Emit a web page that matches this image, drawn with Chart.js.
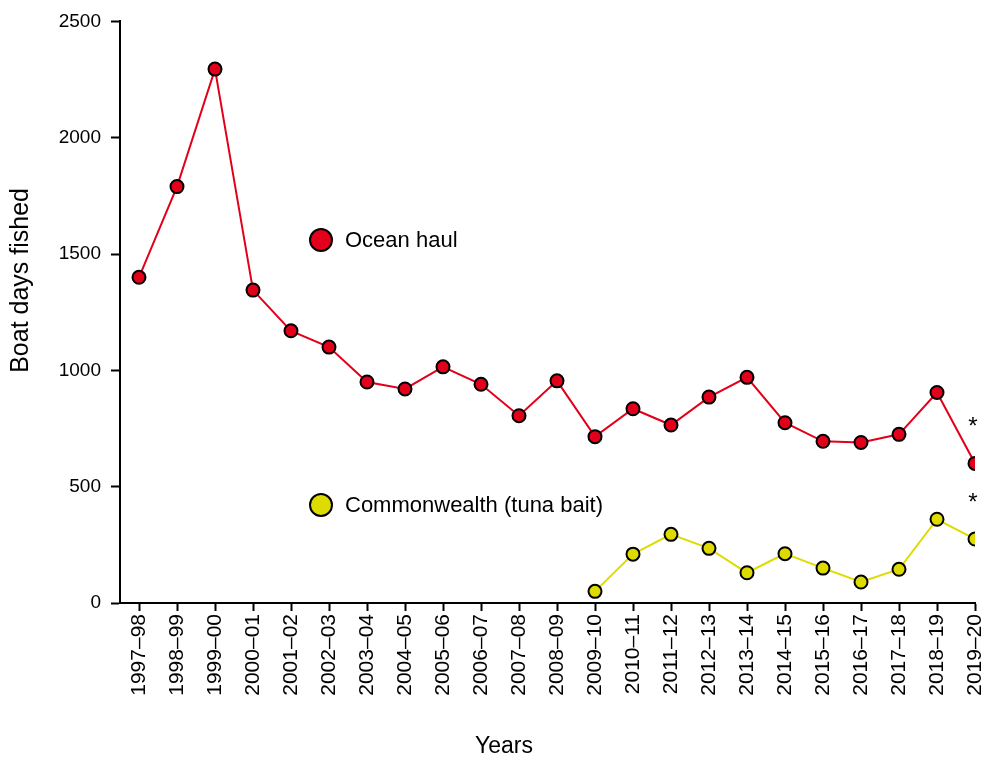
<!DOCTYPE html>
<html>
<head>
<meta charset="utf-8">
<script src="https://cdn.jsdelivr.net/npm/chart.js@4/dist/chart.umd.min.js"></script>
<style>
  html, body { margin: 0; padding: 0; background: #ffffff; }
  #wrap { width: 985px; height: 758px; }
</style>
</head>
<body>
<div id="wrap"><canvas id="chart" width="985" height="758"></canvas></div>
<script>
// Fishing seasons shown along the horizontal axis
const seasons = [
  '1997–98', '1998–99', '1999–00', '2000–01', '2001–02', '2002–03',
  '2003–04', '2004–05', '2005–06', '2006–07', '2007–08', '2008–09',
  '2009–10', '2010–11', '2011–12', '2012–13', '2013–14', '2014–15',
  '2015–16', '2016–17', '2017–18', '2018–19', '2019–20'
];

// Boat days fished, ocean haul sector
const oceanHaul = [
  1400, 1790, 2295, 1345, 1170, 1100, 950, 920, 1015, 940, 805, 955,
  715, 835, 765, 885, 970, 775, 695, 690, 725, 905, 600
];

// Boat days fished, Commonwealth (tuna bait) sector; no effort before 2009–10
const commonwealth = [
  null, null, null, null, null, null, null, null, null, null, null, null,
  50, 210, 295, 235, 130, 212, 150, 90, 145, 360, 275
];

// Value axis ticks
const yTicks = [0, 500, 1000, 1500, 2000, 2500];

// Seasons whose figures are flagged with an asterisk
const flaggedSeasons = ['2019–20'];

const FONT = '"Liberation Sans", Arial, Helvetica, sans-serif';
const RED = '#e2001a';
const YELLOW = '#dedb00';

const toPoints = arr => arr.map((v, i) => ({ x: i, y: v }));

// Axis titles, in-plot legend and asterisk flags
const annotations = {
  id: 'annotations',
  afterDraw(chart) {
    const { ctx, chartArea: a } = chart;
    ctx.save();
    ctx.fillStyle = '#000';

    // axis titles
    ctx.textAlign = 'center';
    ctx.textBaseline = 'middle';
    ctx.font = '23px ' + FONT;
    ctx.fillText('Years', a.left + 384, 747);
    ctx.font = '25px ' + FONT;
    ctx.save();
    ctx.translate(21, a.top + 259);
    ctx.rotate(-Math.PI / 2);
    ctx.fillText('Boat days fished', 0, 0);
    ctx.restore();

    // legend entries placed inside the plot
    const entries = [
      { label: 'Ocean haul', color: RED, y: 240 },
      { label: 'Commonwealth (tuna bait)', color: YELLOW, y: 505 }
    ];
    ctx.font = '22px ' + FONT;
    ctx.textAlign = 'left';
    entries.forEach(e => {
      ctx.beginPath();
      ctx.arc(a.left + 201, e.y, 11, 0, Math.PI * 2);
      ctx.fillStyle = e.color;
      ctx.fill();
      ctx.lineWidth = 2;
      ctx.strokeStyle = '#000';
      ctx.stroke();
      ctx.fillStyle = '#000';
      ctx.fillText(e.label, a.left + 225, e.y + 1);
    });

    // asterisks above flagged seasons
    ctx.font = '24px ' + FONT;
    ctx.textAlign = 'center';
    chart.data.datasets.forEach((ds, di) => {
      const meta = chart.getDatasetMeta(di);
      flaggedSeasons.forEach(s => {
        const idx = seasons.indexOf(s);
        const el = meta.data[idx];
        if (el && ds.data[idx].y != null) {
          ctx.fillText('*', el.x - 2, el.y - 36);
        }
      });
    });
    ctx.restore();
  }
};

new Chart(document.getElementById('chart'), {
  type: 'line',
  data: {
    datasets: [
      {
        label: 'Ocean haul',
        data: toPoints(oceanHaul),
        borderColor: RED,
        backgroundColor: RED,
        borderWidth: 2,
        pointRadius: 6.5,
        pointBorderWidth: 2,
        pointBorderColor: '#000',
        pointBackgroundColor: RED,
        tension: 0
      },
      {
        label: 'Commonwealth (tuna bait)',
        data: toPoints(commonwealth),
        borderColor: YELLOW,
        backgroundColor: YELLOW,
        borderWidth: 2,
        pointRadius: 6.5,
        pointBorderWidth: 2,
        pointBorderColor: '#000',
        pointBackgroundColor: YELLOW,
        tension: 0
      }
    ]
  },
  options: {
    responsive: false,
    animation: false,
    events: [],
    layout: { padding: { top: 20, right: 10, left: 0, bottom: 0 } },
    plugins: {
      legend: { display: false },
      tooltip: { enabled: false }
    },
    scales: {
      x: {
        type: 'linear',
        min: -0.5,
        max: seasons.length - 1,
        afterBuildTicks: s => { s.ticks = seasons.map((_, i) => ({ value: i })); },
        afterFit: s => { s.height = 155; s.paddingRight = 0; s.paddingLeft = 0; },
        ticks: {
          autoSkip: false,
          maxRotation: 90,
          minRotation: 90,
          padding: 3,
          color: '#000',
          font: { family: FONT, size: 21 },
          callback: v => seasons[v]
        },
        grid: {
          drawOnChartArea: false,
          drawTicks: true,
          tickLength: 8,
          tickWidth: 2,
          tickColor: '#000'
        },
        border: { display: true, color: '#000', width: 2 }
      },
      y: {
        min: yTicks[0],
        max: yTicks[yTicks.length - 1],
        afterBuildTicks: s => { s.ticks = yTicks.map(v => ({ value: v })); },
        afterFit: s => { s.width = 120; },
        ticks: {
          padding: 10,
          color: '#000',
          font: { family: FONT, size: 19 },
          callback: v => String(v)
        },
        grid: {
          drawOnChartArea: false,
          drawTicks: true,
          tickLength: 9,
          tickWidth: 2,
          tickColor: '#000'
        },
        border: { display: true, color: '#000', width: 2 }
      }
    }
  },
  plugins: [annotations]
});
</script>
</body>
</html>
